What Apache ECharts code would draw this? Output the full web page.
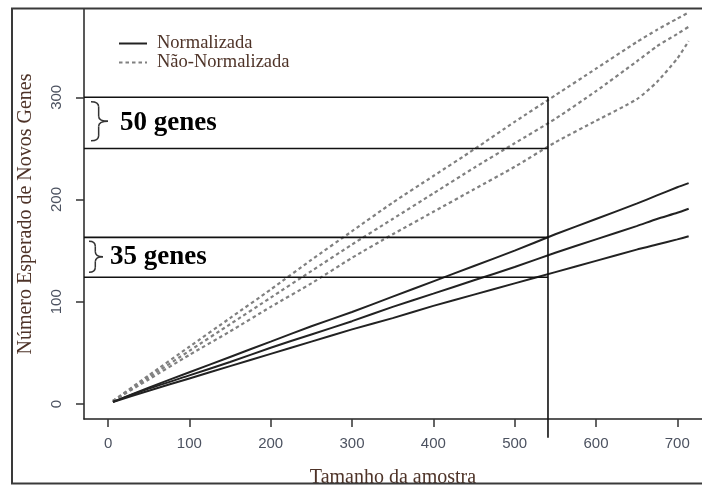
<!DOCTYPE html>
<html><head><meta charset="utf-8">
<script src="https://cdn.jsdelivr.net/npm/echarts@6/dist/echarts.min.js"></script>
<style>html,body{margin:0;padding:0;background:#fff}#c{width:702px;height:486px}</style>
</head><body><div id="c"></div>
<script>
// ---- data ----
const sampleSizes = [6, 50, 100, 150, 200, 250, 300, 350, 400, 450, 500, 550, 600, 650, 675, 700, 714];
const normA = [2, 16, 31, 46, 61, 76, 90, 105, 120, 135, 150, 166, 181, 196, 204, 212, 216];
const normB = [2, 15, 28, 41, 55, 68, 81, 95, 108, 121, 134, 148, 161, 174, 181, 187, 191];
const normC = [2, 13, 25, 37, 49, 61, 73, 84, 96, 107, 118, 129, 140, 151, 156, 161, 164];
const naoA = [3, 28, 56, 84, 112, 141, 169, 197, 223, 249, 276, 302, 328, 354, 366, 377, 383];
const naoB = [3, 26, 52, 78, 104, 130, 156, 181, 206, 231, 255, 279, 306, 335, 350, 362, 369];
const naoC = [3, 24, 48, 71, 95, 118, 143, 166, 188, 210, 232, 256, 277, 298, 315, 338, 355];
const xTicks = [0, 100, 200, 300, 400, 500, 600, 700];
const yTicks = [0, 100, 200, 300];
const xRange = [-29.6, 730.4];
const yRange = [-14.7, 386.4];
const cutoffSize = 541;
const cutoffBottom = -33;
const band50 = [250, 300];
const band35 = [124, 163];
const band50Label = '50 genes';
const band35Label = '35 genes';
const legendNames = ['Normalizada', 'Não-Normalizada'];

const pairs = arr => sampleSizes.map((x, i) => [x, arr[i]]);
const serif = '"Liberation Serif", "Times New Roman", serif';
const sans = '"Liberation Sans", Arial, sans-serif';
const titleColor = '#4e3328';
const tickColor = '#4c5260';
const hidden = { color: 'rgba(0,0,0,0)', borderColor: 'rgba(0,0,0,0)', borderWidth: 0 };

const solid = arr => ({
  type: 'line', name: legendNames[0], data: pairs(arr), symbol: 'none', smooth: 0.2, itemStyle: hidden,
  lineStyle: { color: '#222', width: 2 }, z: 3
});
const dashed = arr => ({
  type: 'line', name: legendNames[1], data: pairs(arr), symbol: 'none', smooth: 0.2, itemStyle: hidden,
  lineStyle: { color: '#808080', width: 2.2, type: [3.5, 3] }, z: 2
});
const ref = pts => ({
  type: 'line', name: 'ref', data: pts, symbol: 'none', clip: false, silent: true,
  lineStyle: { color: '#111', width: 1.6 }, z: 4
});

const chart = echarts.init(document.getElementById('c'), null, { renderer: 'canvas' });
chart.setOption({
  animation: false,
  backgroundColor: '#fff',
  textStyle: { fontFamily: sans },
  grid: { left: 84, top: 9, right: 0, bottom: 67, containLabel: false, outerBoundsMode: 'none' },
  legend: {
    data: legendNames, orient: 'vertical', left: 113, top: 29,
    itemWidth: 28, itemHeight: 14, itemGap: 0,
    textStyle: { fontFamily: serif, fontSize: 18.5, color: titleColor, padding: [0, 0, 0, 5] }
  },
  xAxis: {
    type: 'value', min: xRange[0], max: xRange[1],
    axisLine: { onZero: false, lineStyle: { color: '#222', width: 1.5 } },
    axisTick: { show: true, customValues: xTicks, length: 8, lineStyle: { color: '#333', width: 1.5 } },
    axisLabel: { customValues: xTicks, fontSize: 15, color: tickColor, margin: 17, fontFamily: sans },
    splitLine: { show: false },
    name: 'Tamanho da amostra', nameLocation: 'middle', nameGap: 49,
    nameTextStyle: { fontFamily: serif, fontSize: 20, color: titleColor }
  },
  yAxis: {
    type: 'value', min: yRange[0], max: yRange[1],
    axisLine: { onZero: false, lineStyle: { color: '#222', width: 1.5 } },
    axisTick: { show: true, customValues: yTicks, length: 8, lineStyle: { color: '#333', width: 1.5 } },
    axisLabel: { customValues: yTicks, fontSize: 15, color: tickColor, margin: 20, rotate: 90, fontFamily: sans },
    splitLine: { show: false },
    name: 'Número Esperado de Novos Genes', nameLocation: 'middle', nameGap: 48,
    nameTextStyle: { fontFamily: serif, fontSize: 20, color: titleColor }
  },
  series: [
    solid(normA), solid(normB), solid(normC),
    dashed(naoA), dashed(naoB), dashed(naoC),
    ref([[xRange[0], band50[1]], [cutoffSize, band50[1]], [cutoffSize, cutoffBottom]]),
    ref([[xRange[0], band50[0]], [cutoffSize, band50[0]]]),
    ref([[xRange[0], band35[1]], [cutoffSize, band35[1]]]),
    ref([[xRange[0], band35[0]], [cutoffSize, band35[0]]])
  ]
});

// annotations placed from the axis scales
function py(v) { return chart.convertToPixel({ gridIndex: 0 }, [0, v])[1]; }
const braceStyle = { fill: 'none', stroke: '#333', lineWidth: 1.5 };
function brace(x0, x1, yTop, yBot) {
  const xm = x0 + (x1 - x0) * 0.45, ym = (yTop + yBot) / 2;
  const q = (ax, ay, cx, cy, bx, by) => ({ type: 'bezierCurve', shape: { x1: ax, y1: ay, cpx1: cx, cpy1: cy, x2: bx, y2: by }, style: braceStyle, z: 10, silent: true });
  const l = (ax, ay, bx, by) => ({ type: 'line', shape: { x1: ax, y1: ay, x2: bx, y2: by }, style: braceStyle, z: 10, silent: true });
  return [
    q(x0, yTop, xm, yTop, xm, yTop + 5),
    l(xm, yTop + 5, xm, ym - 5),
    q(xm, ym - 5, xm, ym, x1, ym),
    q(x1, ym, xm, ym, xm, ym + 5),
    l(xm, ym + 5, xm, yBot - 5),
    q(xm, yBot - 5, xm, yBot, x0, yBot)
  ];
}
const t50 = py(band50[1]), b50 = py(band50[0]);
const t35 = py(band35[1]), b35 = py(band35[0]);
const c50 = (t50 + b50) / 2, c35 = (t35 + b35) / 2;
const gfx = [
  { type: 'rect', shape: { x: 12, y: 8.5, width: 700, height: 475 }, style: { fill: 'none', stroke: '#3a3a3a', lineWidth: 2 }, silent: true, z: 10 },
  { type: 'text', x: 120, y: c50, style: { text: band50Label, font: 'bold 27px ' + serif, fill: '#000', verticalAlign: 'middle' }, z: 10 },
  { type: 'text', x: 110, y: c35, style: { text: band35Label, font: 'bold 27px ' + serif, fill: '#000', verticalAlign: 'middle' }, z: 10 }
].concat(brace(91, 108, c50 - 21, c50 + 18), brace(89, 103, c35 - 16, c35 + 15));
chart.setOption({ graphic: gfx });
</script></body></html>
